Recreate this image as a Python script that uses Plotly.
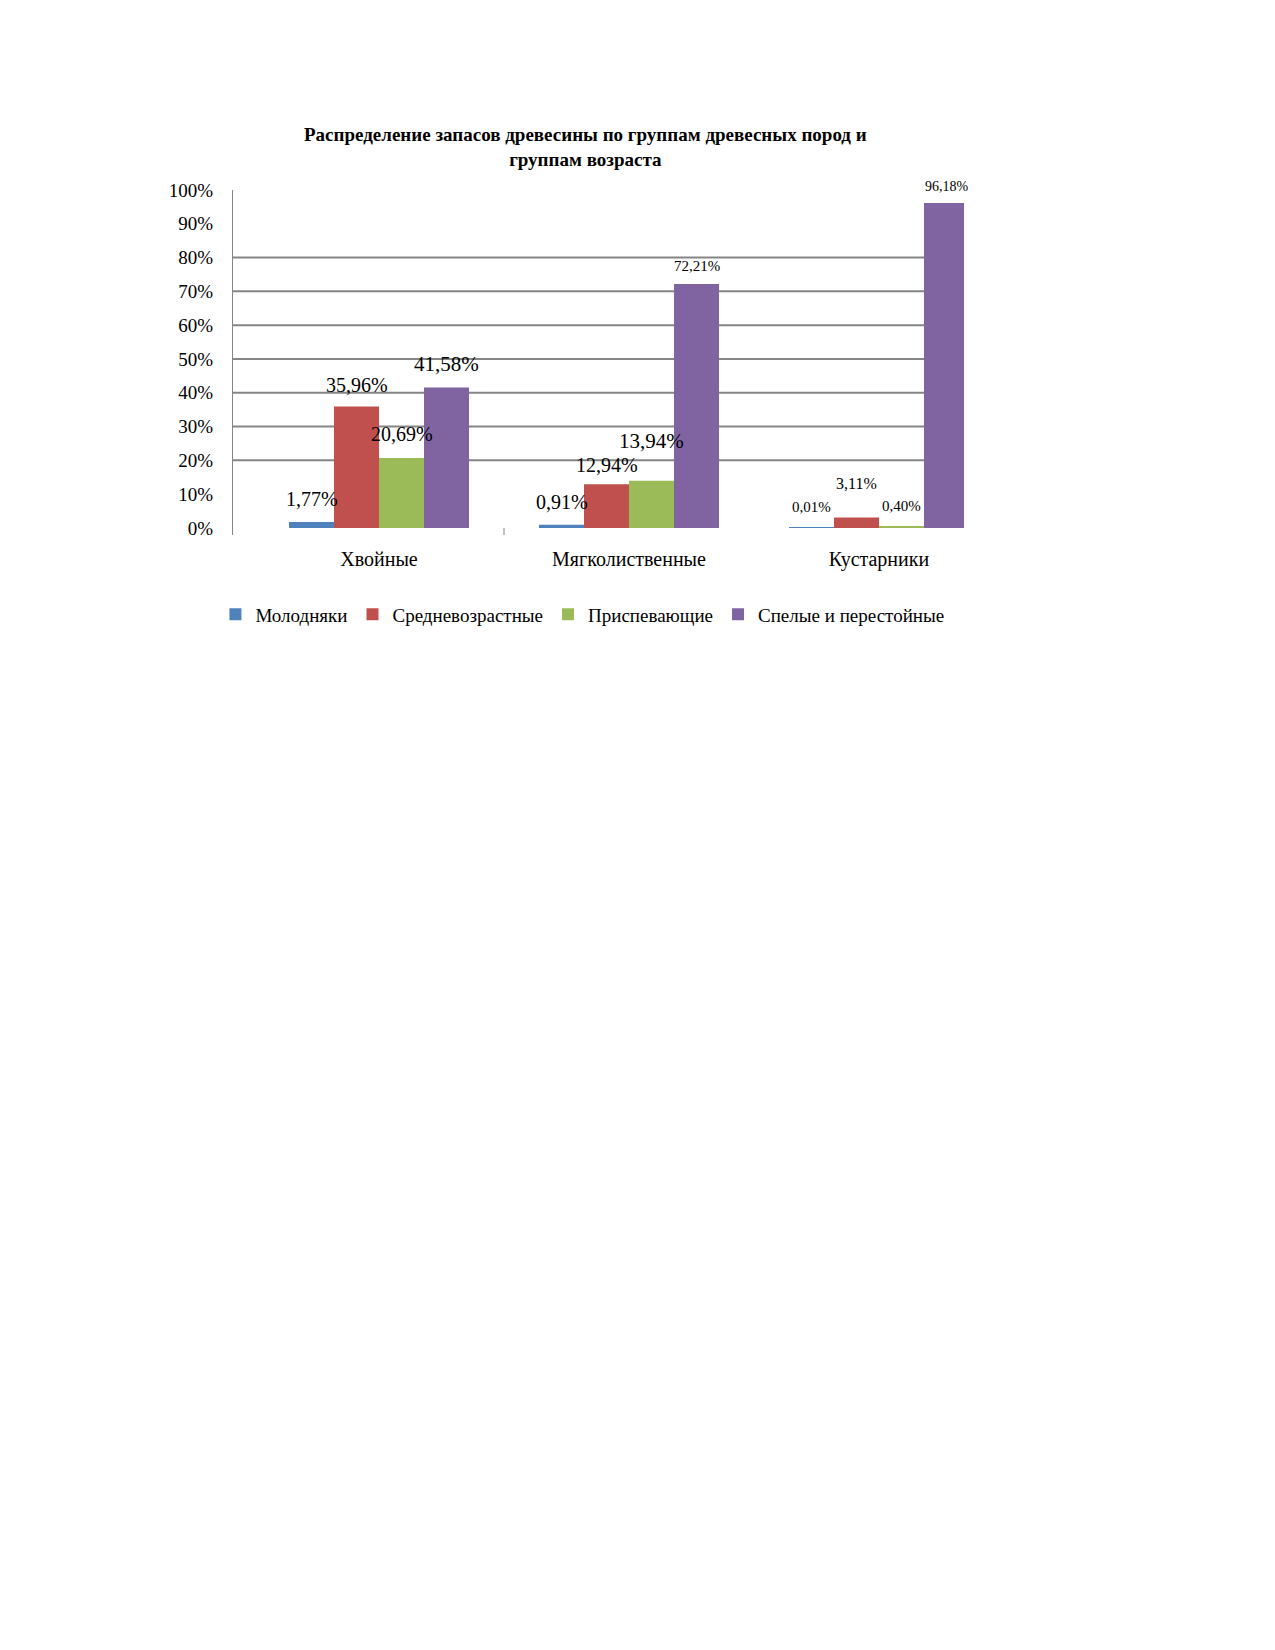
import plotly.graph_objects as go

# groups of tree species
categories = ['Хвойные', 'Мягколиственные', 'Кустарники']

# share of wood stock by age group, %
young = [1.77, 0.91, 0.01]
middle_aged = [35.96, 12.94, 3.11]
ripening = [20.69, 13.94, 0.40]
mature = [41.58, 72.21, 96.18]

series_names = ['Молодняки', 'Средневозрастные', 'Приспевающие', 'Спелые и перестойные']
series_values = [young, middle_aged, ripening, mature]
colors = ['#4F81BD', '#C0504D', '#9BBB59', '#8064A2']

# label styling (font size, lift above the bar top in px)
label_sizes = [[20, 20, 15], [20, 20, 16], [20, 21, 15], [21, 15, 14]]
label_lifts = [[23, 23, 21], [21, 19, 34], [24, 40, 21], [23, 18, 16]]

y_ticks = [0, 10, 20, 30, 40, 50, 60, 70, 80, 90, 100]
grid_values = [20, 30, 40, 50, 60, 70, 80]

serif = 'Liberation Serif, Times New Roman, serif'
bar_gap = 0.28

def fmt(v):
    return ('%.2f' % v).replace('.', ',') + '%'

fig = go.Figure()
n = len(series_values)
for i, (name, values, color) in enumerate(zip(series_names, series_values, colors)):
    fig.add_trace(go.Bar(
        x = categories,
        y = values,
        name = name,
        marker = dict(color = color, line = dict(width = 0)),
        hovertemplate = '%{x}: %{y:.2f}%<extra>' + name + '</extra>'
    ))
    # value labels, centred over each bar of the group
    for j, v in enumerate(values):
        fig.add_annotation(
            x = j + (i - (n - 1) / 2) * (1 - bar_gap) / n,
            y = v,
            xref = 'x', yref = 'y',
            text = fmt(v),
            showarrow = False,
            yanchor = 'middle',
            yshift = label_lifts[i][j],
            font = dict(family = serif, size = label_sizes[i][j], color = '#000000')
        )

for g in grid_values:
    fig.add_shape(type = 'line', xref = 'paper', yref = 'y',
        x0 = 0, x1 = 1, y0 = g, y1 = g,
        line = dict(color = '#858585', width = 2), layer = 'below')

# small category separator tick below the first group
fig.add_shape(type = 'line', xref = 'x', yref = 'y',
    x0 = 0.5, x1 = 0.5, y0 = 0, y1 = -2.1,
    line = dict(color = '#858585', width = 1))

fig.update_layout(
    width = 1275,
    height = 1650,
    paper_bgcolor = 'white',
    plot_bgcolor = 'white',
    barmode = 'group',
    bargap = bar_gap,
    bargroupgap = 0,
    margin = dict(l = 225, r = 319, t = 182, b = 1123, pad = 0),
    title = dict(
        text = '<b>Распределение запасов древесины по группам древесных пород и<br>группам возраста</b>',
        font = dict(family = serif, size = 19, color = '#000000'),
        x = 0.482, xref = 'paper', xanchor = 'center',
        y = 1 - 133 / 1650, yref = 'container', yanchor = 'top'
    ),
    showlegend = True,
    legend = dict(
        orientation = 'h',
        x = 0.478, xanchor = 'center',
        y = -0.175, yanchor = 'top',
        font = dict(family = serif, size = 19, color = '#000000'),
        traceorder = 'normal'
    ),
    font = dict(family = serif, color = '#000000')
)

fig.update_xaxes(
    range = [-0.584, 2.34],
    showline = False,
    showgrid = False,
    ticks = 'outside',
    ticklen = 6,
    tickcolor = 'rgba(0,0,0,0)',
    tickfont = dict(family = serif, size = 20)
)

fig.update_yaxes(
    range = [-2.1, 100],
    tickvals = y_ticks,
    ticktext = ['%d%%' % t for t in y_ticks],
    showgrid = False,
    zeroline = False,
    showline = True,
    linecolor = '#858585',
    linewidth = 1,
    ticks = 'outside',
    ticklen = 15,
    tickcolor = 'rgba(0,0,0,0)',
    tickfont = dict(family = serif, size = 19)
)

fig.write_html('out.html')
